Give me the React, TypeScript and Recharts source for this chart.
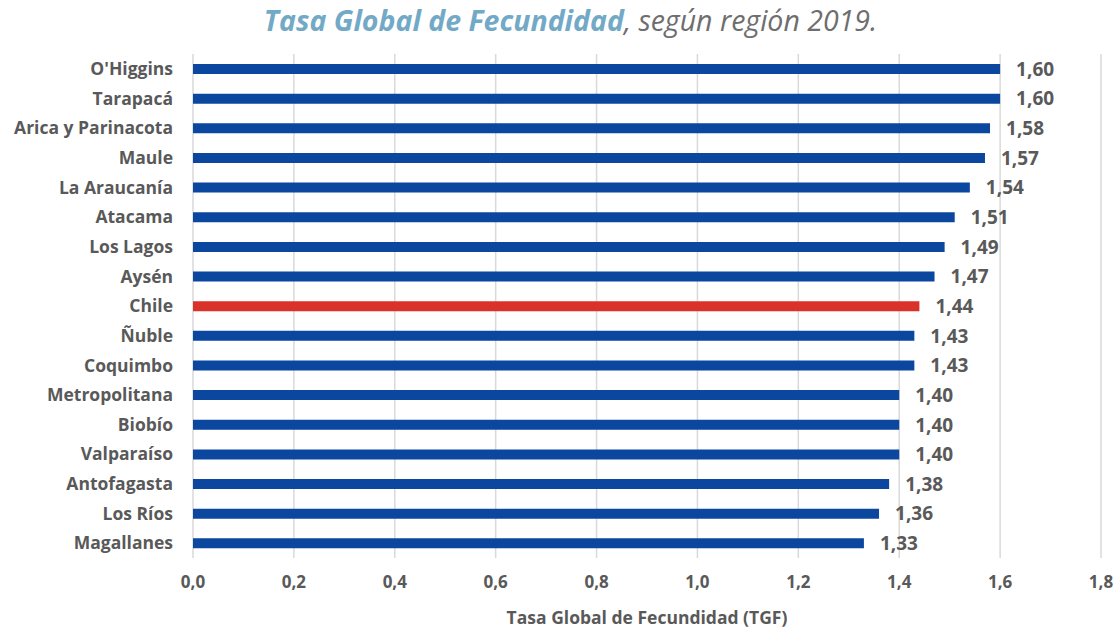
import React from 'react';
import { BarChart, Bar, XAxis, YAxis, CartesianGrid, LabelList, Cell } from 'recharts';

const regions = [
  "O'Higgins", 'Tarapacá', 'Arica y Parinacota', 'Maule', 'La Araucanía', 'Atacama',
  'Los Lagos', 'Aysén', 'Chile', 'Ñuble', 'Coquimbo', 'Metropolitana', 'Biobío',
  'Valparaíso', 'Antofagasta', 'Los Ríos', 'Magallanes',
];
const tgf = [1.6, 1.6, 1.58, 1.57, 1.54, 1.51, 1.49, 1.47, 1.44, 1.43, 1.43, 1.4, 1.4, 1.4, 1.38, 1.36, 1.33];
const xTicks = [0, 0.2, 0.4, 0.6, 0.8, 1.0, 1.2, 1.4, 1.6, 1.8];

const highlight = 'Chile';
const blue = '#0B479F';
const red = '#D8322B';
const textGray = '#595959';
const font = '"Open Sans", sans-serif';

const data = regions.map((region, i) => ({ region, tgf: tgf[i] }));
const comma = (v: number, d: number) => v.toFixed(d).replace('.', ',');

const App: React.FC = () => {
  return (
    <div style={{ position: 'absolute', left: 0, top: 0, width: 1117, height: 629, background: '#fff', fontFamily: font }}>
      <div
        style={{
          position: 'absolute', top: 1, left: 12, width: 1117, textAlign: 'center',
          fontSize: 28.5, fontStyle: 'italic', color: '#6E6E6E', fontFamily: font,
        }}
      >
        <span style={{ color: '#72A9C6', fontWeight: 700 }}>Tasa Global de Fecundidad</span>, según región 2019.
      </div>
      <BarChart
        width={1117}
        height={629}
        data={data}
        layout="vertical"
        margin={{ top: 54, right: 16, bottom: 0, left: 0 }}
        barSize={10}
      >
        <CartesianGrid horizontal={false} stroke="#D9D9D9" strokeWidth={1.5} />
        <XAxis
          type="number"
          domain={[0, 1.8]}
          ticks={xTicks}
          tickFormatter={(v: number) => comma(v, 1)}
          axisLine={false}
          tickLine={false}
          tickSize={6}
          tickMargin={12}
          height={71}
          tick={{ fill: textGray, fontSize: 17, fontWeight: 700, fontFamily: font }}
          label={{
            value: 'Tasa Global de Fecundidad (TGF)', position: 'insideBottom', offset: 5,
            fill: textGray, fontSize: 17.5, fontWeight: 700, fontFamily: font,
          }}
        />
        <YAxis
          type="category"
          dataKey="region"
          width={193}
          axisLine={false}
          tickLine={false}
          tickSize={6}
          tickMargin={14}
          interval={0}
          tick={{ fill: textGray, fontSize: 17.5, fontWeight: 700, fontFamily: font }}
        />
        <Bar dataKey="tgf" fill={blue} isAnimationActive={false}>
          {data.map((d) => (
            <Cell key={d.region} fill={d.region === highlight ? red : blue} />
          ))}
          <LabelList
            dataKey="tgf"
            position="right"
            offset={16}
            formatter={(v: any) => comma(Number(v), 2)}
            style={{ fill: textGray, fontSize: 19, fontWeight: 700, fontFamily: font }}
          />
        </Bar>
      </BarChart>
    </div>
  );
};

export default App;
